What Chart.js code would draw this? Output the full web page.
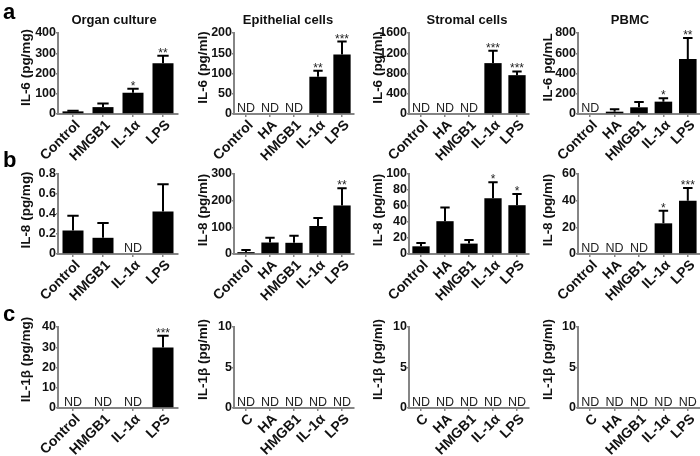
<!DOCTYPE html>
<html><head><meta charset="utf-8">
<script src="https://cdn.jsdelivr.net/npm/chart.js@4/dist/chart.umd.min.js"></script>
<style>
html,body{margin:0;padding:0;background:#fff;}
body{width:700px;height:456px;position:relative;overflow:hidden;font-family:"Liberation Sans",Arial,sans-serif;}
canvas{position:absolute;}
.lbl{position:absolute;font-weight:bold;color:#111;white-space:nowrap;}
</style></head><body>
<script>
// ---------- categories ----------
const catsOrgan  = ['Control', 'HMGB1', 'IL-1α', 'LPS'];
const catsCells  = ['Control', 'HA', 'HMGB1', 'IL-1α', 'LPS'];
const catsCellsC = ['C', 'HA', 'HMGB1', 'IL-1α', 'LPS'];
const columnTitles = ['Organ culture', 'Epithelial cells', 'Stromal cells', 'PBMC'];
const panelLetters = ['a', 'b', 'c'];

// ---------- row a : IL-6 (mean, upper error, significance) ----------
const il6OrganMean = [13, 34, 105, 251];
const il6OrganErr  = [3, 18, 20, 37];
const il6OrganSig  = ['', '', '*', '**'];
const il6EpiMean   = [null, null, null, 92, 147];
const il6EpiErr    = [0, 0, 0, 15, 32];
const il6EpiSig    = ['', '', '', '**', '***'];
const il6StroMean  = [null, null, null, 1005, 767];
const il6StroErr   = [0, 0, 0, 245, 73];
const il6StroSig   = ['', '', '', '***', '***'];
const il6PbmcMean  = [null, 23, 66, 122, 542];
const il6PbmcErr   = [0, 23, 53, 33, 208];
const il6PbmcSig   = ['', '', '', '*', '**'];

// ---------- row b : IL-8 ----------
const il8OrganMean = [0.235, 0.162, null, 0.426];
const il8OrganErr  = [0.148, 0.149, 0, 0.271];
const il8OrganSig  = ['', '', '', ''];
const il8EpiMean   = [7, 43, 42, 105, 182];
const il8EpiErr    = [8, 18, 26, 30, 65];
const il8EpiSig    = ['', '', '', '', '**'];
const il8StroMean  = [9.6, 41, 13, 69.6, 61];
const il8StroErr   = [4.1, 17, 4.5, 20, 14];
const il8StroSig   = ['', '', '', '*', '*'];
const il8PbmcMean  = [null, null, null, 23, 40];
const il8PbmcErr   = [0, 0, 0, 9.4, 9.5];
const il8PbmcSig   = ['', '', '', '*', '***'];

// ---------- row c : IL-1β ----------
const il1bOrganMean = [null, null, null, 29.9];
const il1bOrganErr  = [0, 0, 0, 5.8];
const il1bOrganSig  = ['', '', '', '***'];
const il1bEpiMean   = [null, null, null, null, null];
const il1bStroMean  = [null, null, null, null, null];
const il1bPbmcMean  = [null, null, null, null, null];
const zeroErr5 = [0, 0, 0, 0, 0];
const noSig5   = ['', '', '', '', ''];

// ---------- y axes ----------
const yMaxA = [400, 200, 1600, 800];   const yStepA = [100, 50, 400, 200];
const yMaxB = [0.8, 300, 100, 60];     const yStepB = [0.2, 100, 20, 20];
const yMaxC = [40, 10, 10, 10];        const yStepC = [10, 5, 5, 5];
const yTitlesA = ['IL-6 (pg/mg)', 'IL-6 (pg/ml)', 'IL-6 (pg/ml)', 'IL-6 pg/mL'];
const yTitlesB = ['IL-8 (pg/mg)', 'IL-8 (pg/ml)', 'IL-8 (pg/ml)', 'IL-8 (pg/ml)'];
const yTitlesC = ['IL-1β (pg/mg)', 'IL-1β (pg/ml)', 'IL-1β (pg/ml)', 'IL-1β (pg/ml)'];

// ---------- layout (positions only) ----------
const FF = '"Liberation Sans", Arial, Helvetica, sans-serif';
const AX = '#858585', TX = '#111';
const colL = [0, 185, 360, 530], colW = [190, 175, 172, 170];
const axisX = [58, 234, 409, 578], axisEnd = [178, 354, 529, 700];
const yTitleX = [26, 203, 378, 548];
const titleCX = [114, 288, 467, 630];
const rowT = [13, 154, 307], rowH = [157, 164, 149];
const plotTop = [33, 174, 327], plotBot = [114, 254, 408];
const titleShift = [6, 4, 8];
const letterTop = [1, 149, 303];

const annot = {
  id: 'annot',
  afterDatasetsDraw(chart, args, opts) {
    const ctx = chart.ctx, xs = chart.scales.x, ys = chart.scales.y;
    const meta = chart.getDatasetMeta(0);
    const data = chart.data.datasets[0].data;
    ctx.save();
    data.forEach((v, i) => {
      const x = xs.getPixelForValue(i);
      if (v === null) {
        ctx.font = '12.5px ' + FF;
        ctx.fillStyle = '#222'; ctx.textAlign = 'center'; ctx.textBaseline = 'alphabetic';
        ctx.fillText('ND', x, ys.getPixelForValue(0) - 2);
        return;
      }
      const e = opts.err[i];
      const bw = meta.data[i].width;
      const y0 = ys.getPixelForValue(v), y1 = ys.getPixelForValue(v + e);
      if (e > 0) {
        ctx.strokeStyle = '#000'; ctx.lineWidth = 2;
        ctx.beginPath();
        ctx.moveTo(x, y0); ctx.lineTo(x, y1);
        ctx.moveTo(x - bw * 0.27, y1); ctx.lineTo(x + bw * 0.27, y1);
        ctx.stroke();
      }
      const s = opts.sig[i];
      if (s) {
        ctx.font = '12px ' + FF;
        ctx.fillStyle = '#222'; ctx.textAlign = 'center'; ctx.textBaseline = 'alphabetic';
        ctx.fillText(s, x, y1 + 1);
      }
    });
    // y-axis title
    const ca = chart.chartArea;
    ctx.translate(opts.titleX, (ca.top + ca.bottom) / 2 - opts.shift);
    ctx.rotate(-Math.PI / 2);
    ctx.font = 'bold 13.5px ' + FF;
    ctx.fillStyle = TX; ctx.textAlign = 'center'; ctx.textBaseline = 'middle';
    ctx.fillText(opts.title, 0, 0);
    ctx.restore();
  }
};

function makeChart(row, col, cats, mean, err, sig, ymax, step, ytitle) {
  const l = colL[col], w = colW[col], t = rowT[row], h = rowH[row];
  const cv = document.createElement('canvas');
  cv.width = w; cv.height = h;
  cv.style.left = l + 'px'; cv.style.top = t + 'px';
  cv.style.width = w + 'px'; cv.style.height = h + 'px';
  document.body.appendChild(cv);
  const yW = axisX[col] - l;
  const xH = t + h - plotBot[row];
  new Chart(cv, {
    type: 'bar',
    data: { labels: cats, datasets: [{ data: mean, backgroundColor: '#000', borderWidth: 0,
      barPercentage: cats.length === 4 ? 0.7 : 0.72, categoryPercentage: 1 }] },
    options: {
      responsive: false, animation: false, devicePixelRatio: 1,
      layout: { padding: { top: plotTop[row] - t, right: l + w - axisEnd[col], left: 0, bottom: 0 } },
      plugins: { legend: { display: false }, tooltip: { enabled: false },
                 annot: { err: err, sig: sig, title: ytitle, titleX: yTitleX[col] - l, shift: titleShift[row] } },
      scales: {
        x: {
          grid: { offset: false, drawOnChartArea: false, drawTicks: true, tickLength: 3, color: AX, lineWidth: 1.5 },
          border: { display: true, color: AX, width: 2 },
          ticks: { autoSkip: false, minRotation: 45, maxRotation: 45, padding: 0, labelOffset: 5, color: TX,
                   font: { family: FF, size: 14, weight: 'bold' } },
          afterFit(s) { s.height = xH; }
        },
        y: {
          min: 0, max: ymax,
          ticks: { stepSize: step, autoSkip: false, padding: 0, color: TX,
                   font: { family: FF, size: 12.5, weight: 'bold' },
                   callback: (v) => String(Math.round(v * 1000) / 1000) },
          grid: { drawOnChartArea: false, drawTicks: true, tickLength: 2, color: AX, lineWidth: 1.5 },
          border: { display: true, color: AX, width: 2 },
          afterFit(s) { s.width = yW; }
        }
      }
    },
    plugins: [annot]
  });
}

// row a
makeChart(0, 0, catsOrgan, il6OrganMean, il6OrganErr, il6OrganSig, yMaxA[0], yStepA[0], yTitlesA[0]);
makeChart(0, 1, catsCells, il6EpiMean, il6EpiErr, il6EpiSig, yMaxA[1], yStepA[1], yTitlesA[1]);
makeChart(0, 2, catsCells, il6StroMean, il6StroErr, il6StroSig, yMaxA[2], yStepA[2], yTitlesA[2]);
makeChart(0, 3, catsCells, il6PbmcMean, il6PbmcErr, il6PbmcSig, yMaxA[3], yStepA[3], yTitlesA[3]);
// row b
makeChart(1, 0, catsOrgan, il8OrganMean, il8OrganErr, il8OrganSig, yMaxB[0], yStepB[0], yTitlesB[0]);
makeChart(1, 1, catsCells, il8EpiMean, il8EpiErr, il8EpiSig, yMaxB[1], yStepB[1], yTitlesB[1]);
makeChart(1, 2, catsCells, il8StroMean, il8StroErr, il8StroSig, yMaxB[2], yStepB[2], yTitlesB[2]);
makeChart(1, 3, catsCells, il8PbmcMean, il8PbmcErr, il8PbmcSig, yMaxB[3], yStepB[3], yTitlesB[3]);
// row c
makeChart(2, 0, catsOrgan, il1bOrganMean, il1bOrganErr, il1bOrganSig, yMaxC[0], yStepC[0], yTitlesC[0]);
makeChart(2, 1, catsCellsC, il1bEpiMean, zeroErr5, noSig5, yMaxC[1], yStepC[1], yTitlesC[1]);
makeChart(2, 2, catsCellsC, il1bStroMean, zeroErr5, noSig5, yMaxC[2], yStepC[2], yTitlesC[2]);
makeChart(2, 3, catsCellsC, il1bPbmcMean, zeroErr5, noSig5, yMaxC[3], yStepC[3], yTitlesC[3]);

// column titles and panel letters
columnTitles.forEach((txt, i) => {
  const d = document.createElement('div');
  d.className = 'lbl';
  d.textContent = txt;
  d.style.cssText += 'font-size:13px;line-height:13px;width:200px;text-align:center;left:' + (titleCX[i] - 100) + 'px;top:13.3px;';
  document.body.appendChild(d);
});
panelLetters.forEach((txt, i) => {
  const d = document.createElement('div');
  d.className = 'lbl';
  d.textContent = txt;
  d.style.cssText += 'font-size:22px;line-height:22px;left:3px;top:' + letterTop[i] + 'px;color:#000;';
  document.body.appendChild(d);
});
</script>
</body></html>
